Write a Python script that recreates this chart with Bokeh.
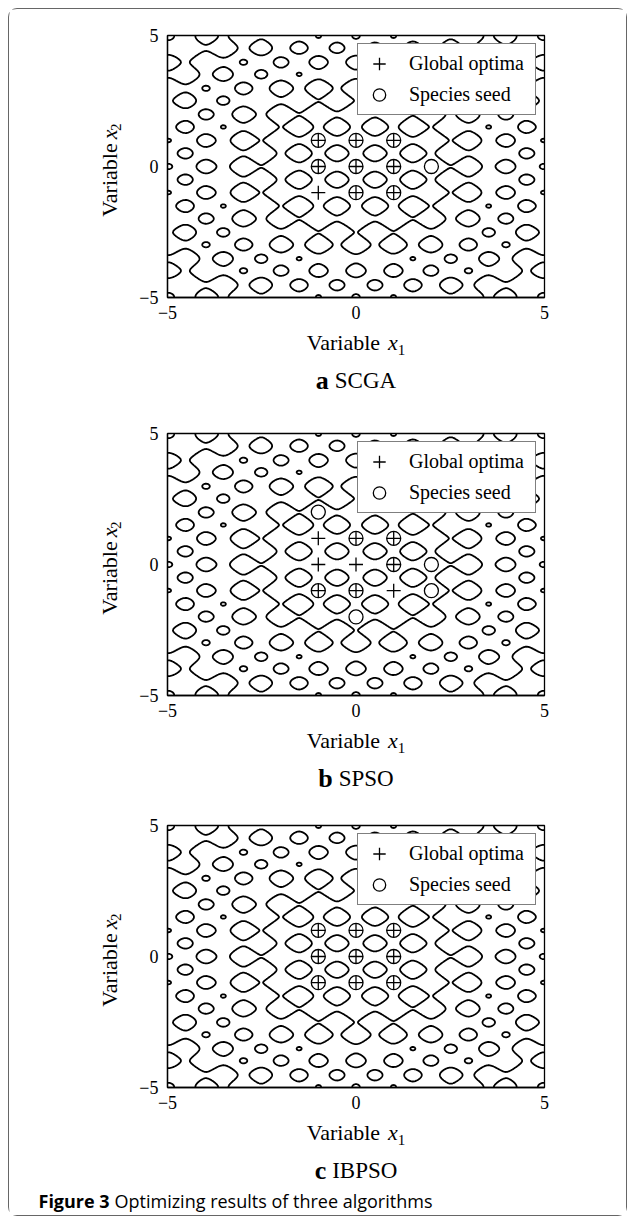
import numpy as np
import contourpy
from bokeh.plotting import figure
from bokeh.layouts import column, row
from bokeh.models import Range1d, FixedTicker, Label, Legend, LegendItem
from bokeh.embed import file_html
from bokeh.resources import INLINE

# ---------------- data ----------------
optima_x = [-1, -1, -1, 0, 0, 0, 1, 1, 1]
optima_y = [-1, 0, 1, -1, 0, 1, -1, 0, 1]

seeds_scga_x = [-1, 0, 1, -1, 0, 1, 0, 1, 2]
seeds_scga_y = [1, 1, 1, 0, 0, 0, -1, -1, 0]

seeds_spso_x = [-1, 0, 1, 1, 2, -1, 0, 2, 0]
seeds_spso_y = [2, 1, 1, 0, 0, -1, -1, -1, -2]

seeds_ibpso_x = [-1, -1, -1, 0, 0, 0, 1, 1, 1]
seeds_ibpso_y = [-1, 0, 1, -1, 0, 1, -1, 0, 1]

panel_letters = ["a", "b", "c"]
panel_names = ["SCGA", "SPSO", "IBPSO"]
tick_values = [-5, 0, 5]
tick_labels = ["\u22125", "0", "5"]
contour_levels = [26.8, 53.7]
legend_labels = ["Global optima", "Species seed"]
axis_word = "Variable"
caption_bold = "Figure 3"
caption_text = "Optimizing results of three algorithms"

# ---------------- landscape (Rastrigin test function) ----------------
def rastrigin(x, y):
    return 20 + x ** 2 + y ** 2 - 10 * np.cos(2 * np.pi * x) - 10 * np.cos(2 * np.pi * y)

g = np.linspace(-5, 5, 401)
GX, GY = np.meshgrid(g, g)
GZ = rastrigin(GX, GY)
gen = contourpy.contour_generator(GX, GY, GZ)
cxs, cys = [], []
for lev in contour_levels:
    for seg in gen.lines(lev):
        cxs.append(seg[:, 0].tolist())
        cys.append(seg[:, 1].tolist())

# ---------------- text metrics (Times-like) ----------------
REG = {"V": .722, "a": .444, "r": .333, "i": .278, "b": .5, "l": .278, "e": .444, " ": .25,
       "x": .444, "1": .5, "2": .5, "S": .556, "C": .667, "G": .722, "A": .722, "P": .556,
       "O": .722, "I": .333, "B": .667}
BOLD = {"a": .5, "b": .556, "c": .444}

def tw(s, size, table=REG):
    return sum(table.get(ch, 0.5) for ch in s) * size

SERIF = "Liberation Serif"
SANS = "Open Sans"
W = 617
YW = 120            # width of the y-label strip
FW, FH = 377, 262   # plot frame size
TOP, BOT = 26, 30
PH = TOP + FH + BOT
S1, S2 = 22, 15


def lbl(f, x, y, text, size, style="normal", align="left", angle=0.0, font=SERIF):
    f.add_layout(Label(x=x, y=y, text=text, text_font=font, text_font_size=f"{size}px",
                       text_font_style=style, text_align=align,
                       text_baseline="middle", angle=angle, text_color="black"))


def text_fig(w, h):
    f = figure(width=w, height=h, x_range=Range1d(0, w), y_range=Range1d(0, h),
               output_backend="svg", toolbar_location=None, min_border=0,
               x_axis_type=None, y_axis_type=None)
    f.outline_line_color = None
    f.background_fill_color = "white"
    f.border_fill_color = "white"
    return f


def plot_fig(sx, sy):
    p = figure(width=W - YW, height=PH, x_range=Range1d(-5, 5), y_range=Range1d(-5, 5),
               output_backend="svg", toolbar_location=None,
               min_border_left=167 - 9 - YW, min_border_right=W - YW - (167 - 9 - YW) - FW,
               min_border_top=TOP, min_border_bottom=BOT)
    p.grid.visible = False
    p.outline_line_color = "black"
    p.outline_line_width = 1.3
    p.background_fill_color = "white"
    p.border_fill_color = "white"
    for ax in (p.xaxis[0], p.yaxis[0]):
        ax.ticker = FixedTicker(ticks=tick_values)
        ax.major_label_overrides = dict(zip(tick_values, tick_labels))
        ax.major_label_text_font = SERIF
        ax.major_label_text_font_size = "18px"
        ax.major_label_text_color = "black"
        ax.axis_line_color = "black"
        ax.axis_line_width = 1.3
        ax.major_tick_in = 0
        ax.major_tick_out = 0
        ax.minor_tick_line_color = None
    p.xaxis.major_label_standoff = 8
    p.yaxis.major_label_standoff = 9

    p.multi_line(cxs, cys, line_color="black", line_width=1.8)

    r_opt = p.scatter(optima_x, optima_y, marker="cross", size=14,
                      line_color="black", line_width=1.3)
    r_seed = p.scatter(sx, sy, marker="circle", size=14, fill_color=None,
                       line_color="black", line_width=1.3)

    leg = Legend(items=[LegendItem(label=legend_labels[0], renderers=[r_opt]),
                        LegendItem(label=legend_labels[1], renderers=[r_seed])],
                 location="top_right", margin=8, padding=4, spacing=0,
                 glyph_width=34, glyph_height=31, label_height=31, label_width=122,
                 label_standoff=13, label_text_font=SERIF, label_text_font_size="20px",
                 label_text_color="black", border_line_color="black",
                 border_line_width=1.3, background_fill_color="white",
                 background_fill_alpha=1.0)
    p.add_layout(leg)
    return p


def y_strip():
    f = text_fig(YW, PH)
    w = tw(axis_word + " ", S1) + tw("x", S1) + tw("2", S2)
    y0 = PH - (TOP + FH / 2) - w / 2
    bx = 116.7 - 9          # baseline position of the rotated text
    ang = np.pi / 2
    lbl(f, bx - 7.4, y0 + tw(axis_word, S1) / 2 - 7, axis_word, S1, align="center", angle=ang)
    lbl(f, bx - 7.4, y0 + tw(axis_word + " ", S1) + tw("x", S1) / 2, "x", S1,
        style="italic", align="center", angle=ang)
    lbl(f, bx + 4 - 5.1, y0 + tw(axis_word + " x", S1) + tw("2", S2) / 2, "2", S2,
        align="center", angle=ang)
    return f


def bottom_strip(idx, h, caption=False):
    f = text_fig(W, h)
    cx = 167 - 9 + FW / 2
    w = tw(axis_word + " ", S1) + tw("x", S1) + tw("1", S2)
    x0 = cx - w / 2
    ym = h - (44.5 - BOT)
    lbl(f, x0, ym, axis_word, S1)
    lbl(f, x0 + tw(axis_word + " ", S1), ym, "x", S1, style="italic")
    lbl(f, x0 + tw(axis_word + " x", S1), h - (52 - BOT), "1", S2)

    let, name = panel_letters[idx], panel_names[idx]
    lw = tw(let, 26, BOLD)
    tot = lw + 6 + tw(name, 23)
    c0 = cx - tot / 2 + lw
    yp = h - (83 - BOT)
    lbl(f, c0, yp, let, 26, style="bold", align="right")
    lbl(f, c0 + 6, yp, name, 23)

    if caption:
        yc = h - (113 - BOT)
        lbl(f, 29, yc, caption_bold, 18, style="bold", font=SANS)
        lbl(f, 29 + 76, yc, caption_text, 18, font=SANS)
    return f


panel_heights = [398, 392, 416]
panel_seeds = [(seeds_scga_x, seeds_scga_y), (seeds_spso_x, seeds_spso_y),
               (seeds_ibpso_x, seeds_ibpso_y)]

blocks = []
for i in range(3):
    sx, sy = panel_seeds[i]
    blocks.append(row(y_strip(), plot_fig(sx, sy)))
    blocks.append(bottom_strip(i, panel_heights[i] - PH, caption=(i == 2)))

layout = column(*blocks, margin=(8, 0, 0, 8),
                styles={"border": "1px solid #666", "border-radius": "9px"})

open("out.html", "w").write(file_html(layout, INLINE, title="Figure 3"))
